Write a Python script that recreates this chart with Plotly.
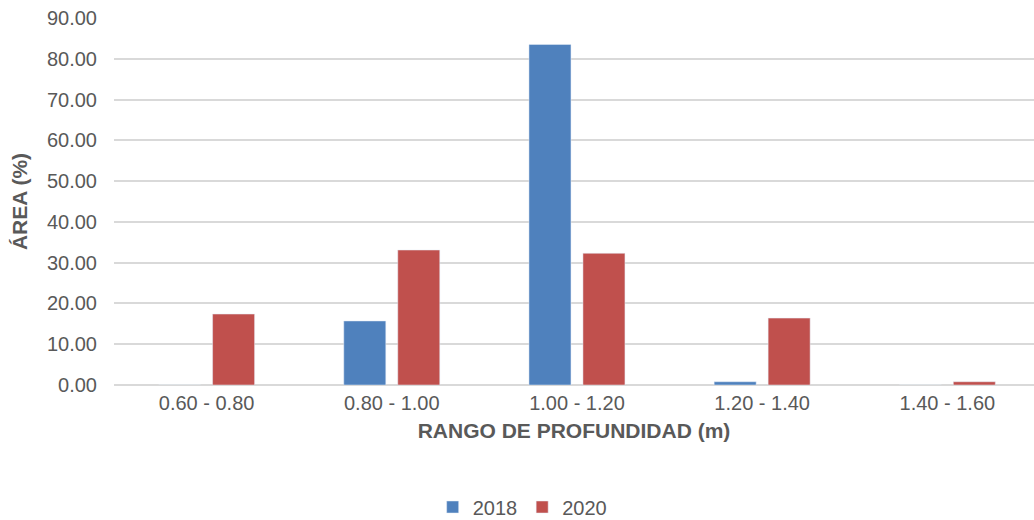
import plotly.graph_objects as go

# Depth ranges and the share of area (%) in each, per survey year
rangos = ["0.60 - 0.80", "0.80 - 1.00", "1.00 - 1.20", "1.20 - 1.40", "1.40 - 1.60"]
area_2018 = [0.0, 15.7, 83.5, 0.8, 0.0]
area_2020 = [17.4, 33.1, 32.3, 16.4, 0.8]
y_ticks = [0, 10, 20, 30, 40, 50, 60, 70, 80, 90]

font_family = "Liberation Sans, Arial, sans-serif"
text_color = "#595959"

fig = go.Figure()
fig.add_trace(go.Bar(name="2018", x=rangos, y=area_2018, marker_color="#4f81bd"))
fig.add_trace(go.Bar(name="2020", x=rangos, y=area_2020, marker_color="#c0504d"))

fig.update_layout(
    width=1034,
    height=520,
    margin=dict(l=114, r=0, t=18, b=135),
    paper_bgcolor="white",
    plot_bgcolor="white",
    barmode="group",
    bargap=0.417,
    bargroupgap=0.222,
    font=dict(family=font_family, size=20, color=text_color),
    showlegend=True,
    legend=dict(
        orientation="h",
        xref="container",
        yref="container",
        x=0.505,
        xanchor="center",
        y=0.025,
        yanchor="middle",
        font=dict(size=20, color=text_color),
        itemwidth=30,
    ),
)

# the last category runs slightly past the right edge of the canvas
fig.update_xaxes(
    title=dict(text="<b>RANGO DE PROFUNDIDAD (m)</b>", standoff=10,
               font=dict(size=21, color=text_color)),
    range=[-0.5, 4.468],
    automargin=False,
    showline=False,
    showgrid=False,
    ticks="",
    ticklabelstandoff=4,
)

fig.update_yaxes(
    title=dict(text="<b>ÁREA (%)</b>", standoff=13,
               font=dict(size=21, color=text_color)),
    range=[0, 90],
    automargin=False,
    tickvals=y_ticks,
    tickformat=".2f",
    showgrid=True,
    gridcolor="#d9d9d9",
    gridwidth=1.5,
    zeroline=True,
    zerolinecolor="#d9d9d9",
    zerolinewidth=1.5,
    showline=False,
    ticks="",
    ticklabelstandoff=16,
)

fig.write_html("out.html")
